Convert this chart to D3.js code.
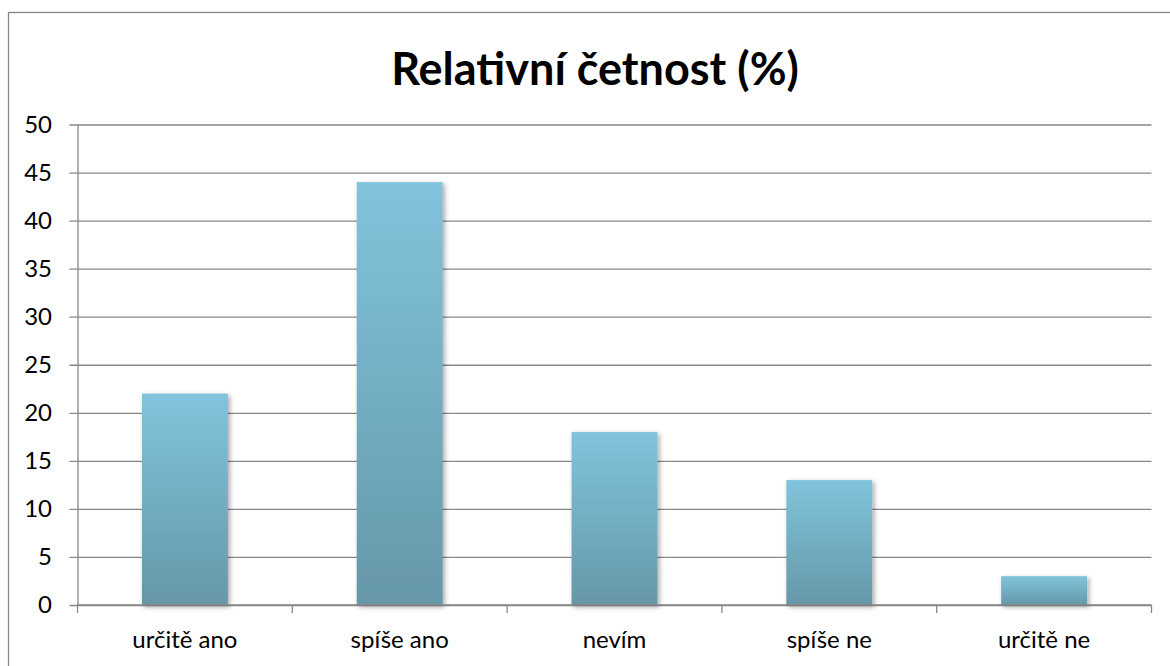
<!DOCTYPE html>
<html>
<head>
<meta charset="utf-8">
<script src="https://cdn.jsdelivr.net/npm/d3@7"></script>
<style>
  html, body { margin: 0; padding: 0; background: #fff; }
  svg { display: block; }
  text { font-family: Lato, "Open Sans", sans-serif; fill: #000; }
</style>
</head>
<body>
<svg id="chart" width="1170" height="666"></svg>
<script>
// Relative frequency of answers, in percent
const categories = ["určitě ano", "spíše ano", "nevím", "spíše ne", "určitě ne"];
const values = [22, 44, 18, 13, 3];
const yTicks = [0, 5, 10, 15, 20, 25, 30, 35, 40, 45, 50];
const title = "Relativní četnost (%)";

const svg = d3.select("#chart");
const W = 1170, H = 666;
const plot = { left: 77.5, right: 1151.5, top: 124.5, bottom: 605 };
const gridColor = "#878787";
const labelSize = "24px";

// outer chart frame
svg.append("rect")
  .attr("x", 8.5).attr("y", 12.5)
  .attr("width", W + 20).attr("height", H + 20)
  .attr("fill", "#fff").attr("stroke", gridColor).attr("stroke-width", 1.3);

const defs = svg.append("defs");
const grad = defs.append("linearGradient")
  .attr("id", "barFill").attr("x1", 0).attr("y1", 0).attr("x2", 0).attr("y2", 1);
grad.append("stop").attr("offset", "0%").attr("stop-color", "#81c4dc");
grad.append("stop").attr("offset", "100%").attr("stop-color", "#6597a8");

const shadow = defs.append("filter").attr("id", "barShadow")
  .attr("x", "-20%").attr("y", "-20%").attr("width", "140%").attr("height", "140%");
shadow.append("feDropShadow")
  .attr("dx", 2).attr("dy", 2).attr("stdDeviation", 2.5)
  .attr("flood-color", "#000").attr("flood-opacity", 0.35);

const x = d3.scaleBand().domain(categories).range([plot.left, plot.right])
  .paddingInner(0.6).paddingOuter(0.3);
const xEdge = d3.scaleBand().domain(categories).range([plot.left, plot.right]);
const y = d3.scaleLinear().domain([0, 50]).range([plot.bottom, plot.top]);

// horizontal gridlines and y axis
const yAxis = d3.axisLeft(y).tickValues(yTicks).tickSize(8).tickPadding(17.5)
  .tickSizeOuter(0);
const gy = svg.append("g").attr("transform", `translate(${plot.left},0)`).call(yAxis);
gy.select(".domain").attr("stroke", gridColor).attr("stroke-width", 1.3);
gy.selectAll(".tick line").attr("stroke", gridColor).attr("stroke-width", 1.3)
  .attr("x2", plot.right - plot.left).attr("x1", -8);
gy.selectAll(".tick text")
  .style("font-family", "Lato, 'Open Sans', sans-serif")
  .style("font-size", labelSize).attr("fill", "#000");

// bars
svg.append("g").selectAll("rect")
  .data(values)
  .join("rect")
  .attr("x", (d, i) => x(categories[i]))
  .attr("y", d => y(d))
  .attr("width", x.bandwidth())
  .attr("height", d => y(0) - y(d))
  .attr("fill", "url(#barFill)")
  .attr("filter", "url(#barShadow)");

// x axis with ticks at category boundaries
const gx = svg.append("g").attr("transform", `translate(0,${plot.bottom})`);
gx.append("line")
  .attr("x1", plot.left).attr("x2", plot.right)
  .attr("stroke", gridColor).attr("stroke-width", 1.3);
const edges = categories.map(c => xEdge(c)).concat([plot.right]);
gx.selectAll("line.edge").data(edges).join("line").attr("class", "edge")
  .attr("x1", d => d).attr("x2", d => d).attr("y1", 0).attr("y2", 8)
  .attr("stroke", gridColor).attr("stroke-width", 1.3);
gx.selectAll("text").data(categories).join("text")
  .attr("x", d => xEdge(d) + xEdge.bandwidth() / 2)
  .attr("y", 43)
  .attr("text-anchor", "middle")
  .style("font-size", labelSize)
  .text(d => d);

// title
svg.append("text")
  .attr("x", 595).attr("y", 85)
  .attr("text-anchor", "middle")
  .style("font-size", "45px").style("font-weight", "bold")
  .text(title);
</script>
</body>
</html>
